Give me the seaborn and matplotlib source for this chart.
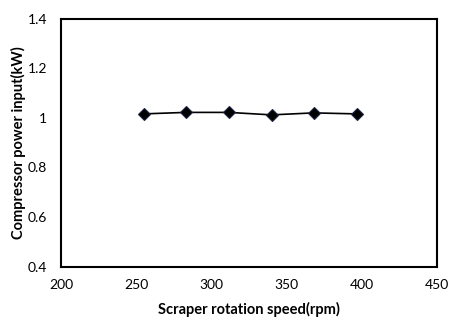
import matplotlib
matplotlib.use("Agg")
import matplotlib.pyplot as plt
import seaborn as sns
import pandas as pd

speed_rpm = [255, 283, 311.5, 340, 368, 396.5]
power_kw = [1.016, 1.022, 1.022, 1.012, 1.020, 1.016]
x_ticks = [200, 250, 300, 350, 400, 450]
y_ticks = [0.4, 0.6, 0.8, 1.0, 1.2, 1.4]
y_tick_labels = ["0.4", "0.6", "0.8", "1", "1.2", "1.4"]

sns.set_style("white")
plt.rcParams['font.family'] = ['Lato', 'DejaVu Sans']

df = pd.DataFrame({"speed": speed_rpm, "power": power_kw})

fig = plt.figure(figsize=(4.64, 3.22), dpi=100)
ax = fig.add_axes([0.1315, 0.172, 0.8103, 0.770])
sns.lineplot(data=df, x="speed", y="power", ax=ax, color="black", linewidth=1.2,
             marker="D", markersize=6, markerfacecolor="black",
             markeredgecolor="#1a2540", markeredgewidth=0.8)

ax.set_xlim(200, 450)
ax.set_ylim(0.4, 1.4)
ax.set_xticks(x_ticks)
ax.set_xticklabels([str(t) for t in x_ticks])
ax.set_yticks(y_ticks)
ax.set_yticklabels(y_tick_labels)
ax.tick_params(axis="both", which="major", direction="in", length=3, width=0.6,
               color="#888888", labelsize=10, labelcolor="black")
ax.tick_params(axis="x", pad=9)
ax.tick_params(axis="y", pad=10)
for s in ax.spines.values():
    s.set_color("black")
    s.set_linewidth(1.5)
ax.set_xlabel("Scraper rotation speed(rpm)", fontsize=10.5, fontweight="bold",
              color="black", labelpad=8)
ax.set_ylabel("Compressor power input(kW)", fontsize=10.5, fontweight="bold",
              color="black", labelpad=1)

fig.savefig("out.png", dpi=100)
